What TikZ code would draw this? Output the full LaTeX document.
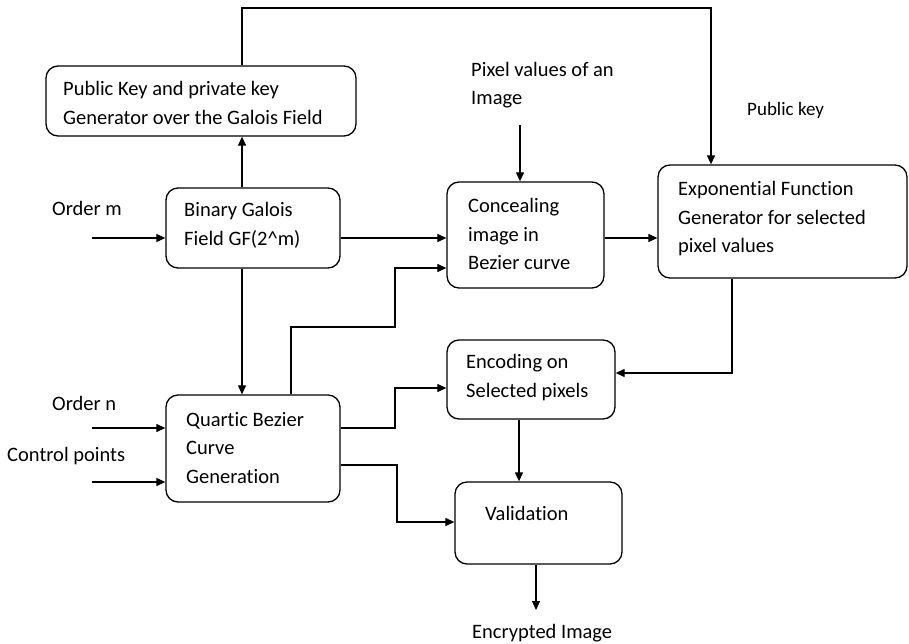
\documentclass[tikz,border=0pt]{standalone}
\usepackage{fontspec}
\setmainfont[Ligatures=NoCommon]{Carlito}
\usetikzlibrary{arrows.meta,calc}
\begin{document}
\begin{tikzpicture}[x=1pt,y=-1pt,
  box/.style={draw, line width=1.3pt, rounded corners=12pt, inner sep=0pt},
  txt/.style={anchor=west, align=left, inner sep=0pt, font=\fontsize{20.5}{28.5}\selectfont},
  small/.style={anchor=west, inner sep=0pt, font=\fontsize{19}{22}\selectfont},
  arr/.style={line width=1.2pt, -{Triangle[length=9pt,width=8pt]}},
  ln/.style={line width=1.2pt}]
\useasboundingbox (0,0) rectangle (909,644);
% boxes
\node[box, minimum width=310pt, minimum height=70pt] (pk) at (201,101) {};
\node[box, minimum width=174pt, minimum height=80pt] (gf) at (253,228) {};
\node[box, minimum width=157pt, minimum height=106pt] (cc) at (525.5,235) {};
\node[box, minimum width=249pt, minimum height=113pt] (ex) at (782.5,221.5) {};
\node[box, minimum width=174pt, minimum height=107pt] (qb) at (253,448.5) {};
\node[box, minimum width=168pt, minimum height=79pt] (en) at (531,379.5) {};
\node[box, minimum width=167pt, minimum height=82pt] (va) at (538.5,523) {};
% box texts
\node[txt] (pkt) at (63,103) {Public Key and private key\\Generator over the Galois Field};
\node[txt] (gft) at (184,225.5) {Binary Galois\\Field GF(2\^{}m)};
\node[txt] (cct) at (468,234) {Concealing\\image in\\Bezier curve};
\node[txt] (ext) at (678,219) {Exponential Function\\Generator for selected\\pixel values};
\node[txt] (qbt) at (186,448) {Quartic Bezier\\Curve\\Generation};
\node[txt] (ent) at (466,377.5) {Encoding on\\Selected pixels};
\node[txt] (vat) at (485,513) {Validation};
% free labels
\node[txt] (om) at (52,208) {Order m};
\node[txt] (on) at (52,403) {Order n};
\node[txt] (cp) at (7,456) {Control points};
\node[txt] (pv) at (471,85) {Pixel values of an\\Image};
\node[small] (pub) at (747,110) {Public key};
\node[txt] (ei) at (472,633) {Encrypted Image};
% helper coordinates
\coordinate (xa) at (242,0);
\coordinate (t1) at (711,8);
\coordinate (omin) at (92,238);
\coordinate (onin) at (92,428);
\coordinate (cpin) at (92,482);
\coordinate (pvs) at (520,125);
\coordinate (q1) at (291,327);
\coordinate (q2) at (395,268);
\coordinate (e1) at (732,373);
\coordinate (a1) at (0,428);
\coordinate (a2) at (395,388);
\coordinate (b1) at (0,465);
\coordinate (b2) at (397,522);
\coordinate (c1) at (519,0);
\coordinate (d1) at (536,610);
% connectors
\draw[arr] (gf.north -| xa) -- (pk.south -| xa);
\draw[arr] (pk.north -| xa) |- (t1) -- (ex.north -| t1);
\draw[arr] (gf.south -| xa) -- (qb.north -| xa);
\draw[arr] (omin) -- (gf.west |- omin);
\draw[arr] (gf.east |- omin) -- (cc.west |- omin);
\draw[arr] (cc.east |- omin) -- (ex.west |- omin);
\draw[arr] (pvs) -- (cc.north -| pvs);
\draw[arr] (qb.north -| q1) -- (q1) -| (q2) -- (cc.west |- q2);
\draw[arr] (ex.south -| e1) -- (e1) -- (en.east |- e1);
\draw[arr] (qb.east |- a1) -| (a2) -- (en.west |- a2);
\draw[arr] (qb.east |- b1) -| (b2) -- (va.west |- b2);
\draw[arr] (en.south -| c1) -- (va.north -| c1);
\draw[arr] (va.south -| d1) -- (d1);
\draw[arr] (onin) -- (qb.west |- onin);
\draw[arr] (cpin) -- (qb.west |- cpin);
\end{tikzpicture}
\end{document}
